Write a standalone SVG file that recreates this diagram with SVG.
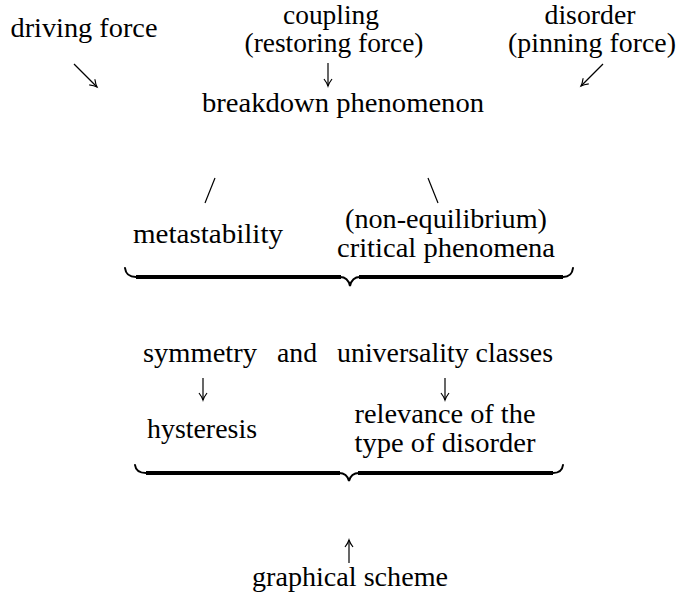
<svg xmlns="http://www.w3.org/2000/svg" width="680" height="597" viewBox="0 0 680 597">
<defs>
<style>
text{font-family:'Liberation Serif','Times New Roman',Times,Tinos,'DejaVu Serif','Noto Serif',FreeSerif,serif;font-size:27px;fill:#000;text-anchor:middle}
.c{fill:none;stroke:#000;stroke-width:1.2}
.bh{fill:none;stroke:#000;stroke-width:2;stroke-linecap:round}
.bb{fill:none;stroke:#000;stroke-width:4}
</style>
<marker id="ah" markerUnits="userSpaceOnUse" markerWidth="20" markerHeight="20" viewBox="-10 -10 20 20" refX="0" refY="0" orient="auto" overflow="visible">
<path d="M -7 -4 Q -3 -1 0 0 Q -3 1 -7 4" fill="none" stroke="#000" stroke-width="1.2"/>
</marker>
</defs>
<rect width="680" height="597" fill="#fff"/>
<g id="driving"><text x="84" y="37" textLength="147" lengthAdjust="spacingAndGlyphs">driving force</text></g>
<g id="coupling"><text x="331" y="24" textLength="96" lengthAdjust="spacingAndGlyphs">coupling</text><text x="334" y="52" textLength="179" lengthAdjust="spacingAndGlyphs">(restoring force)</text></g>
<g id="disorder"><text x="590" y="24" textLength="91" lengthAdjust="spacingAndGlyphs">disorder</text><text x="592" y="52" textLength="168" lengthAdjust="spacingAndGlyphs">(pinning force)</text></g>
<g id="breakdown"><text x="343" y="112" textLength="282" lengthAdjust="spacingAndGlyphs">breakdown phenomenon</text></g>
<g id="metastability"><text x="208" y="243" textLength="150" lengthAdjust="spacingAndGlyphs">metastability</text></g>
<g id="critical"><text x="446" y="228" textLength="202" lengthAdjust="spacingAndGlyphs">(non-equilibrium)</text><text x="446" y="257" textLength="218" lengthAdjust="spacingAndGlyphs">critical phenomena</text></g>
<g id="symmetry"><text x="200" y="362" textLength="114" lengthAdjust="spacingAndGlyphs">symmetry</text><text x="297" y="362" textLength="40" lengthAdjust="spacingAndGlyphs">and</text><text x="445" y="362" textLength="216" lengthAdjust="spacingAndGlyphs">universality classes</text></g>
<g id="hysteresis"><text x="202" y="438" textLength="110" lengthAdjust="spacingAndGlyphs">hysteresis</text></g>
<g id="relevance"><text x="445" y="423" textLength="181" lengthAdjust="spacingAndGlyphs">relevance of the</text><text x="445" y="452" textLength="181" lengthAdjust="spacingAndGlyphs">type of disorder</text></g>
<g id="scheme"><text x="350" y="586" textLength="196" lengthAdjust="spacingAndGlyphs">graphical scheme</text></g>
<g id="connectors">
<path class="c" d="M74 64 L97 87" marker-end="url(#ah)"/>
<path class="c" d="M328 63 L328 86" marker-end="url(#ah)"/>
<path class="c" d="M603 64 L581 86" marker-end="url(#ah)"/>
<path class="c" d="M215 178 L205 203"/>
<path class="c" d="M428 178 L438 203"/>
<path class="c" d="M203 378 L203 400" marker-end="url(#ah)"/>
<path class="c" d="M445 378 L445 400" marker-end="url(#ah)"/>
<path class="c" d="M349 563 L349 540" marker-end="url(#ah)"/>
</g>
<g id="brace1">
<path class="bh" d="M125 268 Q126 277 136 277 L340 277 Q348 277 350 286 Q352 277 360 277 L563 277 Q572 277 573 268"/>
<path class="bb" d="M136 277 L341 277 M359 277 L563 277"/>
</g>
<g id="brace2">
<path class="bh" d="M135 465 Q136 473 146 473 L339 473 Q347 473 349 481 Q351 473 359 473 L553 473 Q562 473 563 465"/>
<path class="bb" d="M146 473 L340 473 M358 473 L553 473"/>
</g>
</svg>
